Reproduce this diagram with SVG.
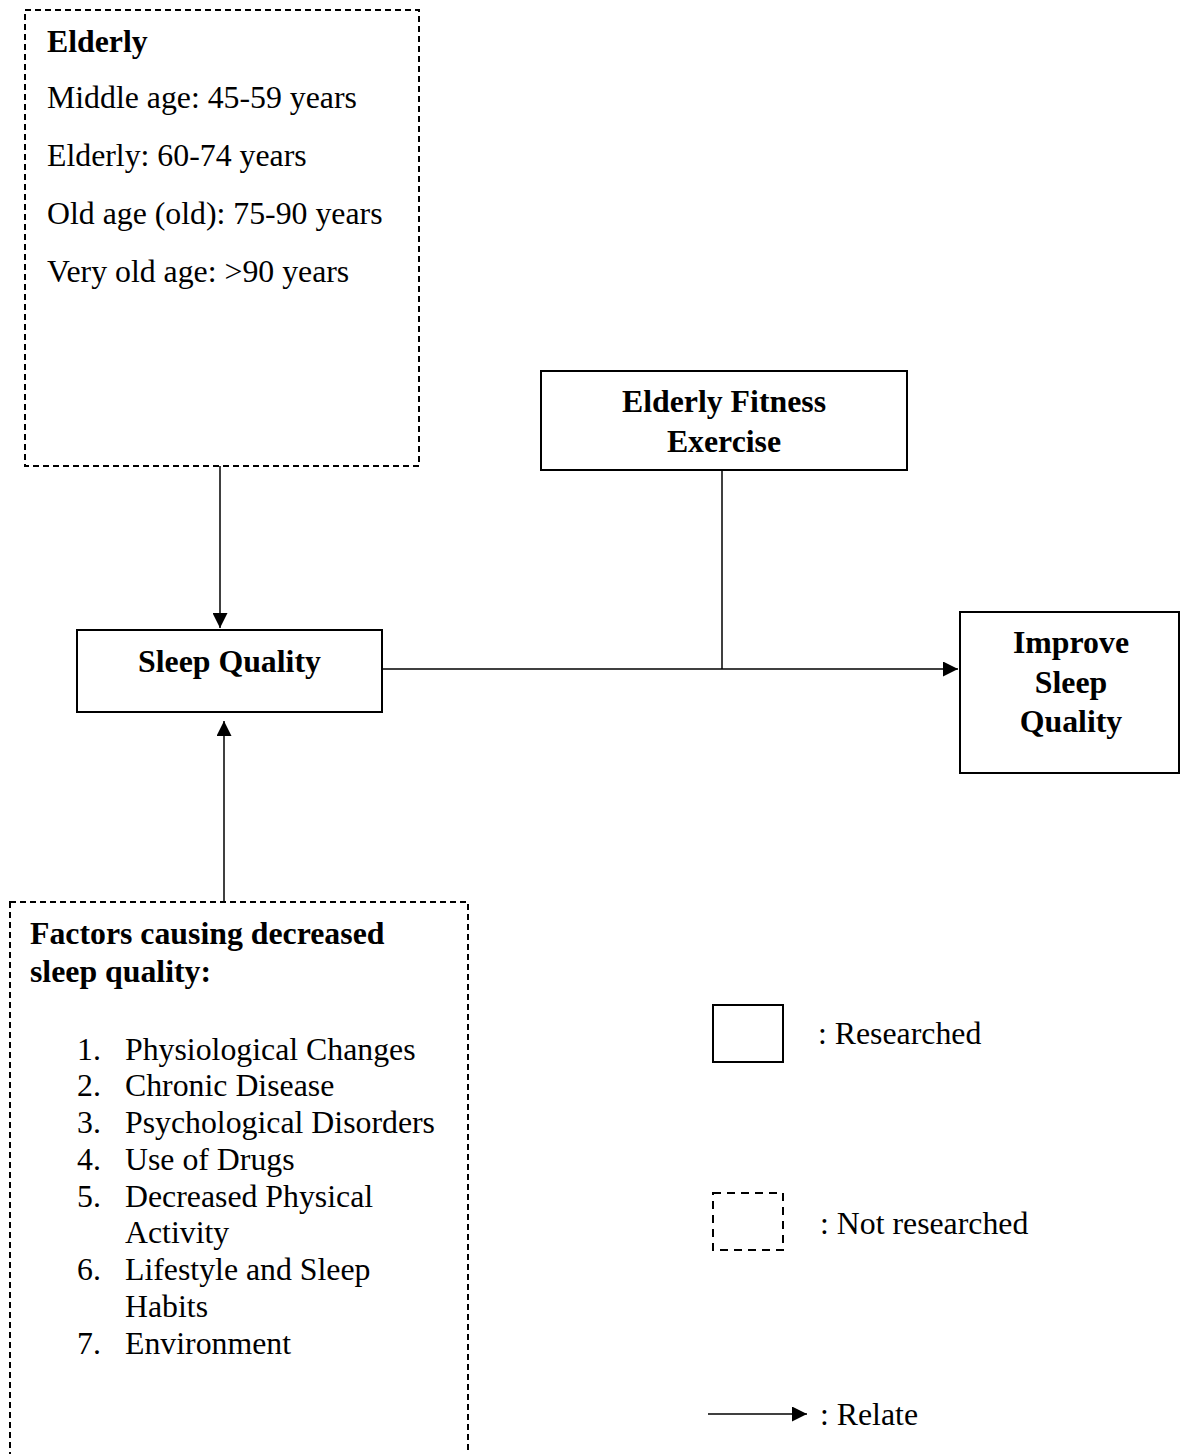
<svg xmlns="http://www.w3.org/2000/svg" width="1181" height="1454" viewBox="0 0 1181 1454">
  <defs>
    <marker id="arrow" markerUnits="userSpaceOnUse" markerWidth="15" markerHeight="15" refX="15" refY="7.5" orient="auto">
      <path d="M0,0 L15,7.5 L0,15 z" fill="#000"/>
    </marker>
    <style>
      text { font-family: "Liberation Serif", "Times New Roman", serif; font-size: 31.8px; fill: #000; }
      .b { font-weight: bold; }
      .c { text-anchor: middle; }
      .solid { fill: #fff; stroke: #000; stroke-width: 2; }
      .dash { fill: #fff; stroke: #000; stroke-width: 2; stroke-dasharray: 6 4; }
      .conn { fill: none; stroke: #000; stroke-width: 1.5; }
    </style>
  </defs>
  <rect width="1181" height="1454" fill="#fff"/>

  <g id="connectors">
    <line class="conn" x1="220" y1="466" x2="220" y2="628" marker-end="url(#arrow)"/>
    <line class="conn" x1="224" y1="902" x2="224" y2="721" marker-end="url(#arrow)"/>
    <line class="conn" x1="382" y1="669" x2="958" y2="669" marker-end="url(#arrow)"/>
    <line class="conn" x1="722" y1="470" x2="722" y2="669"/>
  </g>

  <g id="elderly">
    <rect class="dash" x="25" y="10" width="394" height="456"/>
    <text class="b" x="47" y="52">Elderly</text>
    <text x="47" y="108">Middle age: 45-59 years</text>
    <text x="47" y="166">Elderly: 60-74 years</text>
    <text x="47" y="224">Old age (old): 75-90 years</text>
    <text x="47" y="282">Very old age: &gt;90 years</text>
  </g>

  <g id="fitness">
    <rect class="solid" x="541" y="371" width="366" height="99"/>
    <text class="b c" x="724" y="412">Elderly Fitness</text>
    <text class="b c" x="724" y="452">Exercise</text>
  </g>

  <g id="sleep-quality">
    <rect class="solid" x="77" y="630" width="305" height="82"/>
    <text class="b c" x="229.5" y="672">Sleep Quality</text>
  </g>

  <g id="improve">
    <rect class="solid" x="960" y="612" width="219" height="161"/>
    <text class="b c" x="1071" y="653">Improve</text>
    <text class="b c" x="1071" y="693">Sleep</text>
    <text class="b c" x="1071" y="732">Quality</text>
  </g>

  <g id="factors">
    <rect class="dash" x="10" y="902" width="458" height="600"/>
    <text class="b" x="30" y="944">Factors causing decreased</text>
    <text class="b" x="30" y="982">sleep quality:</text>
    <text x="77" y="1060">1.</text><text x="125" y="1060">Physiological Changes</text>
    <text x="77" y="1096">2.</text><text x="125" y="1096">Chronic Disease</text>
    <text x="77" y="1133">3.</text><text x="125" y="1133">Psychological Disorders</text>
    <text x="77" y="1170">4.</text><text x="125" y="1170">Use of Drugs</text>
    <text x="77" y="1207">5.</text><text x="125" y="1207">Decreased Physical</text>
    <text x="125" y="1243">Activity</text>
    <text x="77" y="1280">6.</text><text x="125" y="1280">Lifestyle and Sleep</text>
    <text x="125" y="1317">Habits</text>
    <text x="77" y="1354">7.</text><text x="125" y="1354">Environment</text>
  </g>

  <g id="legend">
    <rect class="solid" x="713" y="1005" width="70" height="57"/>
    <text x="818" y="1044">: Researched</text>
    <rect class="dash" x="713" y="1193" width="70" height="57" style="stroke-dasharray:8 6"/>
    <text x="820" y="1234">: Not researched</text>
    <line class="conn" x1="708" y1="1414" x2="807" y2="1414" marker-end="url(#arrow)"/>
    <text x="820" y="1425">: Relate</text>
  </g>
</svg>
